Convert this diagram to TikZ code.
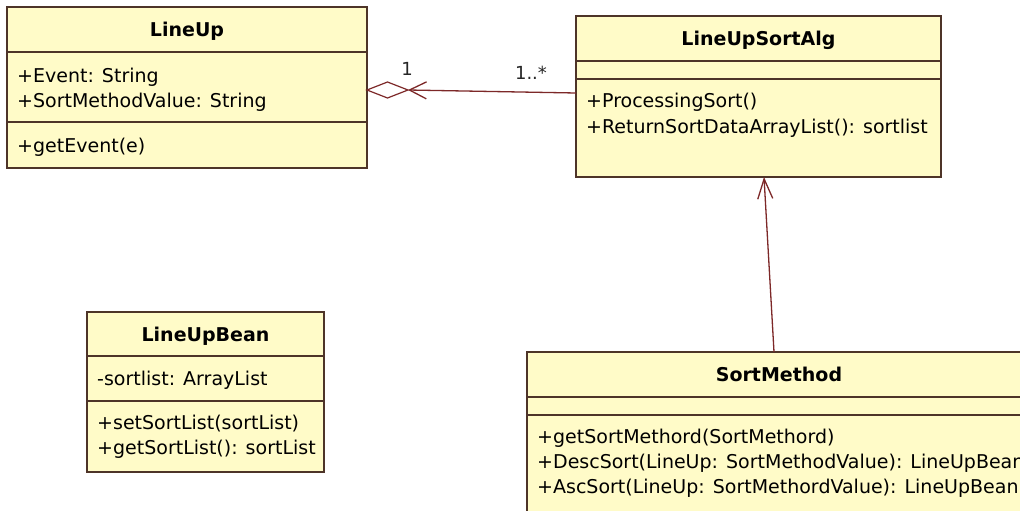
\documentclass[tikz,border=0pt]{standalone}
\usepackage{fontspec}
\setmainfont{DejaVu Sans}
\usetikzlibrary{calc,arrows.meta}
\definecolor{boxfill}{RGB}{255,251,200}
\definecolor{boxline}{RGB}{78,52,40}
\definecolor{linkcol}{RGB}{125,40,40}
\begin{document}
\begin{tikzpicture}[x=1pt,y=-1pt,
  classbox/.style={draw=boxline,fill=boxfill,line width=1.4pt,inner sep=0pt,outer sep=0pt},
  divider/.style={draw=boxline,line width=1.4pt},
  txt/.style={anchor=base west,inner sep=0pt,font=\fontsize{19}{25}\selectfont,text=black},
  ttl/.style={anchor=base,inner sep=0pt,font=\fontsize{19}{25}\selectfont\bfseries,text=black},
  mult/.style={anchor=base,inner sep=0pt,font=\fontsize{18}{22}\selectfont,text=black!85},
  assoc/.style={draw=linkcol,line width=1.3pt}
]
\useasboundingbox (0,0) rectangle (1020,511);
\clip (0,0) rectangle (1020,511);
\fill[white] (0,0) rectangle (1020,511);

% LineUp
\node[classbox,minimum width=360pt,minimum height=161pt] (lineup) at (187,87.5) {};
\draw[divider] ($(lineup.north west)+(0,45)$) -- ($(lineup.north east)+(0,45)$);
\draw[divider] ($(lineup.north west)+(0,115)$) -- ($(lineup.north east)+(0,115)$);
\node[ttl] (lineupT) at (187,36.5) {LineUp};
\node[txt] (lineupA1) at (17,82.5) {+Event: String};
\node[txt] (lineupA2) at (17,107.5) {+SortMethodValue: String};
\node[txt] (lineupM1) at (17,152) {+getEvent(e)};

% LineUpSortAlg
\node[classbox,minimum width=365pt,minimum height=161pt] (alg) at (758.5,96.5) {};
\draw[divider] ($(alg.north west)+(0,45)$) -- ($(alg.north east)+(0,45)$);
\draw[divider] ($(alg.north west)+(0,63)$) -- ($(alg.north east)+(0,63)$);
\node[ttl] (algT) at (758.5,45.5) {LineUpSortAlg};
\node[txt] (algM1) at (586,107.5) {+ProcessingSort()};
\node[txt] (algM2) at (586,133) {+ReturnSortDataArrayList(): sortlist};

% LineUpBean
\node[classbox,minimum width=237pt,minimum height=160pt] (bean) at (205.5,392) {};
\draw[divider] ($(bean.north west)+(0,44)$) -- ($(bean.north east)+(0,44)$);
\draw[divider] ($(bean.north west)+(0,89)$) -- ($(bean.north east)+(0,89)$);
\node[ttl] (beanT) at (205.5,341) {LineUpBean};
\node[txt] (beanA1) at (97,385.5) {-sortlist: ArrayList};
\node[txt] (beanM1) at (97,429) {+setSortList(sortList)};
\node[txt] (beanM2) at (97,454) {+getSortList(): sortList};

% SortMethod
\node[classbox,minimum width=504pt,minimum height=208pt] (sm) at (779,456) {};
\draw[divider] ($(sm.north west)+(0,45)$) -- ($(sm.north east)+(0,45)$);
\draw[divider] ($(sm.north west)+(0,63)$) -- ($(sm.north east)+(0,63)$);
\node[ttl] (smT) at (779,381.5) {SortMethod};
\node[txt] (smM1) at (537,443) {+getSortMethord(SortMethord)};
\node[txt] (smM2) at (537,468) {+DescSort(LineUp: SortMethodValue): LineUpBean};
\node[txt] (smM3) at (537,493) {+AscSort(LineUp: SortMethordValue): LineUpBean};

% aggregation LineUp <>-- LineUpSortAlg
\coordinate (aggL) at ($(lineup.north east)+(0,83)$);
\coordinate (aggR) at ($(aggL)+(41,0)$);
\draw[assoc,line width=1.2pt,fill=white] (aggL) -- ++(20.5,-8) -- (aggR) -- ++(-20.5,8) -- cycle;
\draw[assoc,{Straight Barb[length=17pt,width=17pt]}-] (aggR) -- ($(alg.north west)+(0,77)$);
\node[mult] (m1) at (407,75) {1};
\node[mult] (m2) at (531,79) {1..*};

% SortMethod --> LineUpSortAlg
\draw[assoc,-{Straight Barb[length=20pt,width=15pt]}] ($(sm.north west)+(247,0)$) -- ($(alg.south west)+(188,0)$);
\end{tikzpicture}
\end{document}
